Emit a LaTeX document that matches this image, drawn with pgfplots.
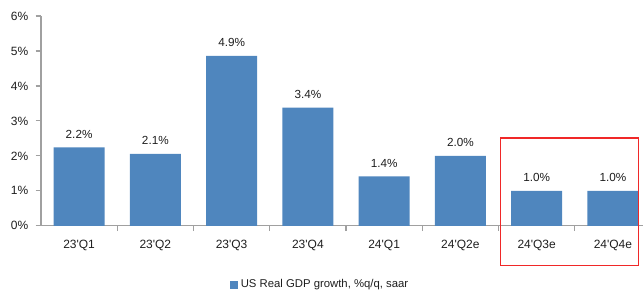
\documentclass[border=0pt]{standalone}
\usepackage{pgfplots}
\pgfplotsset{compat=1.18}
\usepackage{fontspec}
\setmainfont{Liberation Sans}
\definecolor{barblue}{RGB}{79,134,190}
\definecolor{axgray}{RGB}{160,160,160}
\definecolor{txt}{RGB}{30,30,30}
\newcommand{\q}{\textquotesingle}
\begin{document}
\begin{tikzpicture}
\begin{axis}[
  at={(0pt,0pt)}, anchor=south west,
  scale only axis, width=452.25pt, height=157.5pt,
  xmin=0, xmax=7.9, ymin=0, ymax=6,
  axis x line=bottom, axis y line=left,
  axis line style={-, draw=axgray, line width=0.9pt},
  every tick/.style={draw=axgray, line width=0.9pt},
  tick align=outside,
  major tick length=4pt,
  xtick={0.5,1.5,...,7.5},
  xticklabels={23\q Q1,23\q Q2,23\q Q3,23\q Q4,24\q Q1,24\q Q2e,24\q Q3e,24\q Q4e},
  x tick style={draw=none},
  minor xtick={1,2,...,7},
  minor x tick style={draw=axgray, line width=0.9pt},
  minor tick length=4pt,
  ytick={0,1,...,6},
  yticklabel={\pgfmathprintnumber{\tick}\%},
  /pgf/number format/assume math mode=true,
  ticklabel style={font=\fontsize{9pt}{11pt}\selectfont, text=txt},
  x tick label style={yshift=-3pt},
  y tick label style={xshift=-2pt},
  ybar, bar width=38.25pt, bar shift=0pt,
  nodes near coords={\pgfmathprintnumber[fixed,fixed zerofill,precision=1]{\pgfplotspointmeta}\%},
  every node near coord/.append style={font=\fontsize{8.8pt}{10pt}\selectfont, text=txt, yshift=3.5pt},
  clip=false,
  legend style={at={(0.464,-0.281)}, anchor=center, draw=none, fill=none,
    font=\fontsize{8.5pt}{10pt}\selectfont, text=txt, inner sep=0pt},
  legend image code/.code={\fill[barblue] (0pt,-3pt) rectangle (6pt,3pt);},
]
\addplot[fill=barblue, draw=none] coordinates {
  (0.5,2.24) (1.5,2.06) (2.5,4.86) (3.5,3.38) (4.5,1.41) (5.5,2.0) (6.5,1.0) (7.5,1.0)};
\addlegendentry{US Real GDP growth, \%q/q, saar}
\draw[draw={rgb,255:red,240;green,40;blue,40}, line width=1pt] (axis cs:6.03,2.51) rectangle (axis cs:7.84,-1.14);
\end{axis}
\path (-30.75pt,-51pt) rectangle (452.25pt,169.5pt);
\end{tikzpicture}
\end{document}
